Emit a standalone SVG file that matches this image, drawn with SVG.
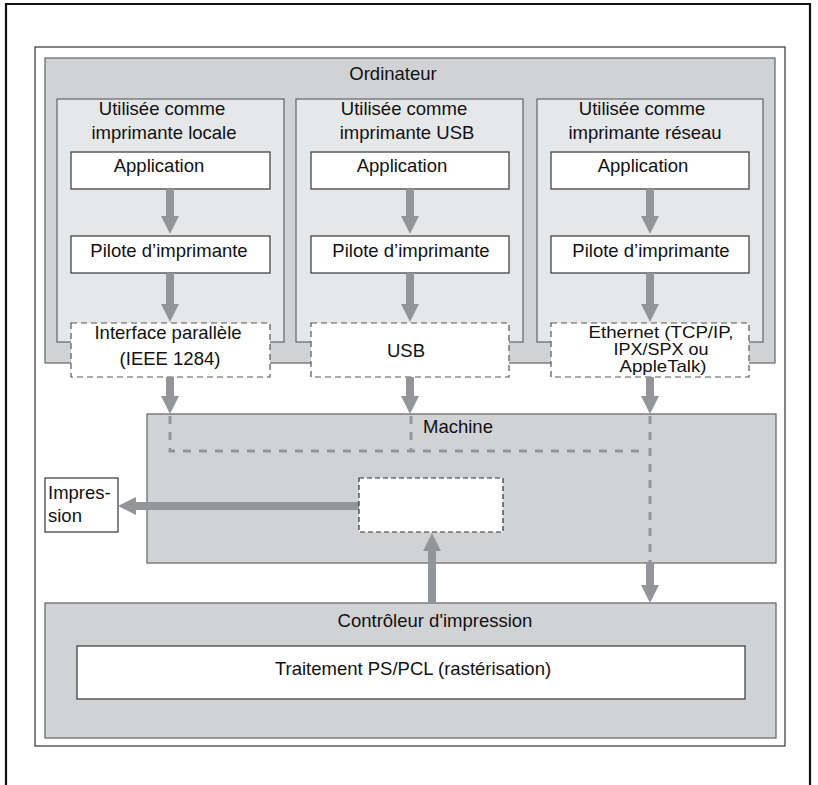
<svg xmlns="http://www.w3.org/2000/svg" width="818" height="785" viewBox="0 0 818 785">
<style>
  text { font-family: "Liberation Sans", Arial, sans-serif; font-size: 18.5px; fill: #111; }
  .mid { text-anchor: middle; }
  .tight { font-size: 16.5px; }
  .grey { fill: #d1d2d4; stroke: #6d6e71; stroke-width: 1.3; }
  .col { fill: #e6e7e8; stroke: #6d6e71; stroke-width: 1.3; }
  .box { fill: #ffffff; stroke: #444; stroke-width: 1.3; }
  .dbox { fill: #ffffff; stroke: #555; stroke-width: 1.2; stroke-dasharray: 6 4; }
  .arrow { stroke: #939598; stroke-width: 8; fill: none; marker-end: url(#head); }
  .dash { stroke: #939598; stroke-width: 3; fill: none; stroke-dasharray: 8 8; }
</style>
<defs>
  <marker id="head" markerUnits="userSpaceOnUse" markerWidth="18" markerHeight="18" viewBox="0 0 18 18" refX="0" refY="9" orient="auto">
    <path d="M0,0 L18,9 L0,18 z" fill="#939598"/>
  </marker>
</defs>
<rect width="818" height="785" fill="#ffffff"/>
<path d="M6,785 V4 H810 V785" fill="none" stroke="#111" stroke-width="2.2"/>
<rect x="35" y="47" width="750" height="699" fill="#ffffff" stroke="#333" stroke-width="1.2"/>

<g id="ordinateur">
  <rect class="grey" x="45" y="58" width="730" height="305"/>
  <text class="mid" x="393" y="80">Ordinateur</text>
</g>
<g id="col-locale">
  <rect class="col" x="57" y="99" width="227" height="243"/>
  <text class="mid" x="162" y="115">Utilisée comme</text>
  <text class="mid" x="164" y="139">imprimante locale</text>
</g>
<g id="col-usb">
  <rect class="col" x="296" y="99" width="227" height="243"/>
  <text class="mid" x="404" y="115">Utilisée comme</text>
  <text class="mid" x="407" y="139">imprimante USB</text>
</g>
<g id="col-reseau">
  <rect class="col" x="537" y="99" width="226" height="243"/>
  <text class="mid" x="642" y="115">Utilisée comme</text>
  <text class="mid" x="645" y="139">imprimante réseau</text>
</g>

<g id="app1"><rect class="box" x="71" y="152" width="199" height="37"/><text class="mid" x="159" y="172">Application</text></g>
<g id="app2"><rect class="box" x="311" y="152" width="198" height="37"/><text class="mid" x="402" y="172">Application</text></g>
<g id="app3"><rect class="box" x="551" y="152" width="198" height="37"/><text class="mid" x="643" y="172">Application</text></g>

<g id="pilote1"><rect class="box" x="71" y="236" width="199" height="37"/><text class="mid" x="169" y="257">Pilote d’imprimante</text></g>
<g id="pilote2"><rect class="box" x="311" y="236" width="198" height="37"/><text class="mid" x="411" y="257">Pilote d’imprimante</text></g>
<g id="pilote3"><rect class="box" x="551" y="236" width="198" height="37"/><text class="mid" x="651" y="257">Pilote d’imprimante</text></g>

<g id="interface-parallele">
  <rect class="dbox" x="71" y="323" width="199" height="54"/>
  <text class="mid" x="168" y="339">Interface parallèle</text>
  <text class="mid" x="170" y="365">(IEEE 1284)</text>
</g>
<g id="usb">
  <rect class="dbox" x="311" y="323" width="198" height="54"/>
  <text class="mid" x="406" y="357">USB</text>
</g>
<g id="ethernet">
  <rect class="dbox" x="551" y="323" width="198" height="54"/>
  <text class="mid tight" x="661" y="338" textLength="145" lengthAdjust="spacingAndGlyphs">Ethernet (TCP/IP,</text>
  <text class="mid tight" x="661" y="355" textLength="95" lengthAdjust="spacingAndGlyphs">IPX/SPX ou</text>
  <text class="mid tight" x="663" y="372" textLength="87" lengthAdjust="spacingAndGlyphs">AppleTalk)</text>
</g>

<g id="machine">
  <rect class="grey" x="147" y="414" width="629" height="149"/>
  <text x="423" y="433">Machine</text>
</g>

<g id="controleur">
  <rect class="grey" x="45" y="603" width="731" height="135"/>
  <text class="mid" x="435" y="627">Contrôleur d'impression</text>
</g>
<g id="traitement">
  <rect class="box" x="77" y="646" width="668" height="53"/>
  <text class="mid" x="413" y="675">Traitement PS/PCL (rastérisation)</text>
</g>

<g id="impression">
  <rect class="box" x="45" y="478" width="73" height="54"/>
  <text x="48" y="499">Impres-</text>
  <text x="48" y="522">sion</text>
</g>

<g id="connectors">
  <path class="dash" d="M170,416 V451 H647"/>
  <path class="dash" d="M411,416 V451"/>
  <path class="dash" d="M650,416 V563"/>

  <line class="arrow" x1="170" y1="189" x2="170" y2="216"/>
  <line class="arrow" x1="170" y1="273" x2="170" y2="304"/>
  <line class="arrow" x1="170" y1="377" x2="170" y2="396"/>
  <line class="arrow" x1="410" y1="189" x2="410" y2="216"/>
  <line class="arrow" x1="410" y1="273" x2="410" y2="304"/>
  <line class="arrow" x1="410" y1="377" x2="410" y2="396"/>
  <line class="arrow" x1="650" y1="189" x2="650" y2="216"/>
  <line class="arrow" x1="650" y1="273" x2="650" y2="304"/>
  <line class="arrow" x1="650" y1="377" x2="650" y2="396"/>
  <line class="arrow" x1="650" y1="563" x2="650" y2="585"/>
  <line class="arrow" x1="359" y1="506" x2="136" y2="506"/>
  <line class="arrow" x1="432" y1="603" x2="432" y2="551"/>
</g>

<g id="machine-buffer">
  <rect x="359" y="478" width="144" height="54" fill="#ffffff" stroke="#333" stroke-width="1.2" stroke-dasharray="5 3"/>
</g>
</svg>
